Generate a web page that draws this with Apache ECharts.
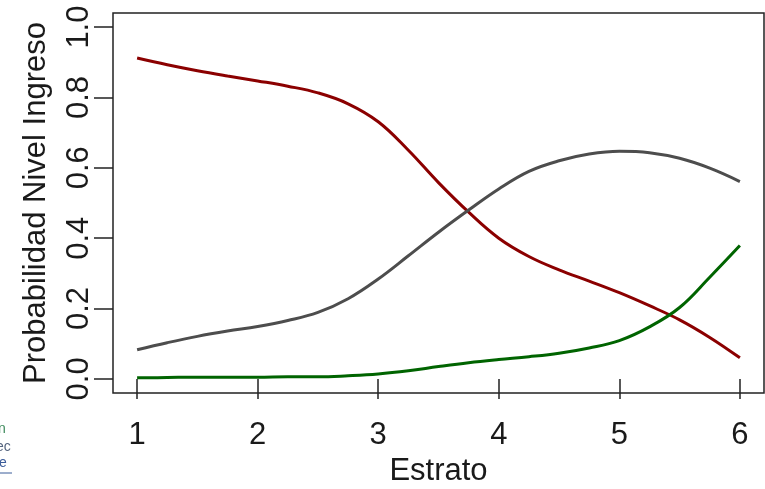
<!DOCTYPE html>
<html>
<head>
<meta charset="utf-8">
<script src="https://cdn.jsdelivr.net/npm/echarts@6/dist/echarts.min.js"></script>
<style>
  html, body { margin: 0; padding: 0; background: #ffffff; }
  #chart { width: 765px; height: 489px; }
</style>
</head>
<body>
<div id="chart"></div>
<script>
// Estrato socioeconómico (eje x)
const estrato = [1, 1.25, 1.5, 1.75, 2, 2.25, 2.5, 2.75, 3, 3.25, 3.5, 3.75, 4, 4.25, 4.5, 4.75, 5, 5.25, 5.5, 5.75, 6];

// Probabilidad estimada por nivel de ingreso
const probBajo  = [0.912, 0.893, 0.876, 0.861, 0.847, 0.832, 0.813, 0.782, 0.731, 0.650, 0.558, 0.474, 0.400, 0.348, 0.310, 0.278, 0.245, 0.208, 0.168, 0.118, 0.060];
const probMedio = [0.083, 0.103, 0.121, 0.136, 0.149, 0.166, 0.189, 0.228, 0.284, 0.350, 0.417, 0.480, 0.540, 0.590, 0.620, 0.639, 0.647, 0.643, 0.627, 0.599, 0.561];
const probAlto  = [0.003, 0.004, 0.005, 0.005, 0.005, 0.006, 0.006, 0.009, 0.014, 0.023, 0.035, 0.046, 0.055, 0.063, 0.073, 0.088, 0.109, 0.148, 0.203, 0.289, 0.379];

// Marcas de los ejes
const xTicks = [1, 2, 3, 4, 5, 6];
const yTicks = [0, 0.2, 0.4, 0.6, 0.8, 1.0];

const FONT = "'Liberation Sans', Arial, Helvetica, sans-serif";
const INK = '#1a1a1a';

function pairs(ys) {
  return estrato.map((x, i) => [x, ys[i]]);
}

const chart = echarts.init(document.getElementById('chart'), null, { renderer: 'canvas' });

const lineSeries = (name, ys, color) => ({
  name: name,
  type: 'line',
  data: pairs(ys),
  smooth: 0.4,
  showSymbol: false,
  symbol: 'none',
  lineStyle: { color: color, width: 3 },
  silent: true,
  animation: false
});

chart.setOption({
  animation: false,
  backgroundColor: '#ffffff',
  grid: {
    left: 113, right: 1, top: 13, bottom: 96,
    outerBoundsMode: 'none',
    containLabel: false,
    show: true, borderColor: '#222222', borderWidth: 1.5,
    backgroundColor: 'transparent'
  },
  xAxis: {
    type: 'value',
    min: 0.8, max: 6.2,
    name: 'Estrato',
    nameLocation: 'middle',
    nameGap: 62,
    nameTextStyle: { fontFamily: FONT, fontSize: 31, color: INK },
    axisLine: { show: false },
    splitLine: { show: false },
    axisTick: { show: true, customValues: xTicks, length: 20, lineStyle: { color: '#222222', width: 1.5 } },
    axisLabel: {
      customValues: xTicks,
      fontFamily: FONT, fontSize: 31, color: INK, margin: 27,
      formatter: v => String(v)
    }
  },
  yAxis: {
    type: 'value',
    min: -0.04, max: 1.04,
    name: 'Probabilidad Nivel Ingreso',
    nameLocation: 'middle',
    nameGap: 61,
    nameRotate: 90,
    nameTextStyle: { fontFamily: FONT, fontSize: 31, color: INK },
    axisLine: { show: false },
    splitLine: { show: false },
    axisTick: { show: true, customValues: yTicks, length: 19, lineStyle: { color: '#222222', width: 1.5 } },
    axisLabel: {
      customValues: yTicks,
      rotate: 90,
      fontFamily: FONT, fontSize: 31, color: INK, margin: 18,
      formatter: v => v.toFixed(1)
    }
  },
  series: [
    lineSeries('Bajo', probBajo, '#8b0000'),
    lineSeries('Medio', probMedio, '#4d4d4d'),
    lineSeries('Alto', probAlto, '#006400')
  ],
  graphic: [
    { type: 'text', left: -6, top: 422, style: { text: 'In', fontFamily: FONT, fontSize: 14, fill: '#3d8a5c' } },
    { type: 'text', left: -4, top: 440, style: { text: 'ec', fontFamily: FONT, fontSize: 14, fill: '#55647e' } },
    { type: 'text', left: -1, top: 456, style: { text: 'e', fontFamily: FONT, fontSize: 14, fill: '#3b5c9a' } },
    { type: 'line', shape: { x1: 0, y1: 473, x2: 12, y2: 473 }, style: { stroke: '#3b5c9a', lineWidth: 1 } }
  ]
});
</script>
</body>
</html>
